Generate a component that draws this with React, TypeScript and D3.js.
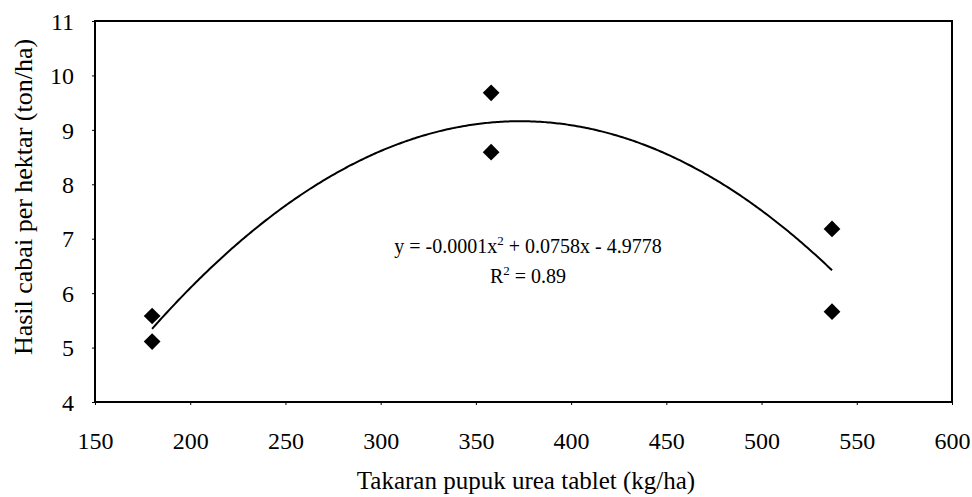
import React, { useEffect, useRef } from "react";
import * as d3 from "d3";

// urea tablet dose (kg/ha) and chili yield (ton/ha), two replicates per dose
const doses = [180, 180, 358, 358, 537, 537];
const yields = [5.58, 5.11, 9.68, 8.59, 7.18, 5.66];

const xTicks = [150, 200, 250, 300, 350, 400, 450, 500, 550, 600];
const yTicks = [4, 5, 6, 7, 8, 9, 10, 11];

const equationLabel = "y = -0.0001x";
const equationRest = " + 0.0758x - 4.9778";
const r2Value = " = 0.89";
const xTitle = "Takaran pupuk urea tablet (kg/ha)";
const yTitle = "Hasil cabai per hektar (ton/ha)";

// least squares quadratic y = a x^2 + b x + c
function fitQuadratic(xs: number[], ys: number[]) {
  const s = (f: (x: number, y: number) => number) =>
    d3.sum(xs, (x, i) => f(x, ys[i]));
  const m = [
    [s((x) => x ** 4), s((x) => x ** 3), s((x) => x ** 2), s((x, y) => x * x * y)],
    [s((x) => x ** 3), s((x) => x ** 2), s((x) => x), s((x, y) => x * y)],
    [s((x) => x ** 2), s((x) => x), xs.length, s((x, y) => y)],
  ];
  // gaussian elimination
  for (let i = 0; i < 3; i++) {
    for (let j = i + 1; j < 3; j++) {
      const f = m[j][i] / m[i][i];
      for (let k = i; k < 4; k++) m[j][k] -= f * m[i][k];
    }
  }
  const sol = [0, 0, 0];
  for (let i = 2; i >= 0; i--) {
    let v = m[i][3];
    for (let k = i + 1; k < 3; k++) v -= m[i][k] * sol[k];
    sol[i] = v / m[i][i];
  }
  return sol;
}

const App = () => {
  const svgRef = useRef<SVGSVGElement>(null);

  useEffect(() => {
    const width = 972;
    const height = 497;
    const left = 95;
    const right = 952;
    const top = 21;
    const bottom = 402;
    const font = "'Liberation Serif', 'Times New Roman', serif";

    const svg = d3.select(svgRef.current);
    svg.selectAll("*").remove();
    svg.attr("width", width).attr("height", height);

    const x = d3.scaleLinear().domain([150, 600]).range([left, right]);
    const y = d3.scaleLinear().domain([4, 11]).range([bottom, top]);

    // frame
    svg
      .append("rect")
      .attr("x", left)
      .attr("y", top)
      .attr("width", right - left)
      .attr("height", bottom - top)
      .attr("fill", "none")
      .attr("stroke", "#000")
      .attr("stroke-width", 2);

    // x axis
    const xAxis = svg
      .append("g")
      .attr("transform", `translate(0,${bottom})`)
      .call(
        d3.axisBottom(x).tickValues(xTicks).tickFormat(d3.format("d")).tickSize(3).tickSizeOuter(0).tickPadding(44)
      );
    xAxis.select(".domain").remove();
    xAxis.selectAll("line").attr("stroke", "#000").attr("stroke-width", 1);
    xAxis
      .selectAll("text")
      .style("font-family", font)
      .style("font-size", "24px")
      .attr("fill", "#000")
      .attr("dy", "0");

    // y axis
    const yAxis = svg
      .append("g")
      .attr("transform", `translate(${left},0)`)
      .call(
        d3.axisLeft(y).tickValues(yTicks).tickFormat(d3.format("d")).tickSize(3).tickSizeOuter(0).tickPadding(18)
      );
    yAxis.select(".domain").remove();
    yAxis.selectAll("line").attr("stroke", "#000").attr("stroke-width", 1);
    yAxis
      .selectAll("text")
      .style("font-family", font)
      .style("font-size", "24px")
      .attr("fill", "#000")
      .attr("dy", "0.34em");

    // trend line
    const [a, b, c] = fitQuadratic(doses, yields);
    const xs = d3.range(d3.min(doses)!, d3.max(doses)! + 0.5, 1);
    const line = d3
      .line<number>()
      .x((d) => x(d))
      .y((d) => y(a * d * d + b * d + c));
    svg
      .append("path")
      .attr("d", line(xs))
      .attr("fill", "none")
      .attr("stroke", "#000")
      .attr("stroke-width", 2);

    // points
    const diamond = d3.symbol(d3.symbolSquare, 140);
    svg
      .selectAll(".pt")
      .data(doses)
      .enter()
      .append("path")
      .attr("class", "pt")
      .attr("d", diamond)
      .attr("transform", (d, i) => `translate(${x(d)},${y(yields[i])}) rotate(45)`)
      .attr("fill", "#000");

    // equation
    const eq = svg
      .append("text")
      .attr("x", 528)
      .attr("y", 253)
      .attr("text-anchor", "middle")
      .style("font-family", font)
      .style("font-size", "20px")
      .attr("fill", "#000");
    eq.append("tspan").text(equationLabel);
    eq.append("tspan").attr("dy", -8).style("font-size", "13px").text("2");
    eq.append("tspan").attr("dy", 8).text(equationRest);

    const r2 = svg
      .append("text")
      .attr("x", 528)
      .attr("y", 283)
      .attr("text-anchor", "middle")
      .style("font-family", font)
      .style("font-size", "20px")
      .attr("fill", "#000");
    r2.append("tspan").text("R");
    r2.append("tspan").attr("dy", -8).style("font-size", "13px").text("2");
    r2.append("tspan").attr("dy", 8).text(r2Value);

    // axis titles
    svg
      .append("text")
      .attr("x", 526)
      .attr("y", 489)
      .attr("text-anchor", "middle")
      .style("font-family", font)
      .style("font-size", "25px")
      .attr("fill", "#000")
      .text(xTitle);

    svg
      .append("text")
      .attr("transform", `translate(32,197) rotate(-90)`)
      .attr("text-anchor", "middle")
      .style("font-family", font)
      .style("font-size", "26px")
      .attr("fill", "#000")
      .text(yTitle);
  }, []);

  return (
    <div style={{ position: "absolute", left: 0, top: 0, background: "#fff" }}>
      <svg ref={svgRef} style={{ display: "block" }} />
    </div>
  );
};

export default App;
